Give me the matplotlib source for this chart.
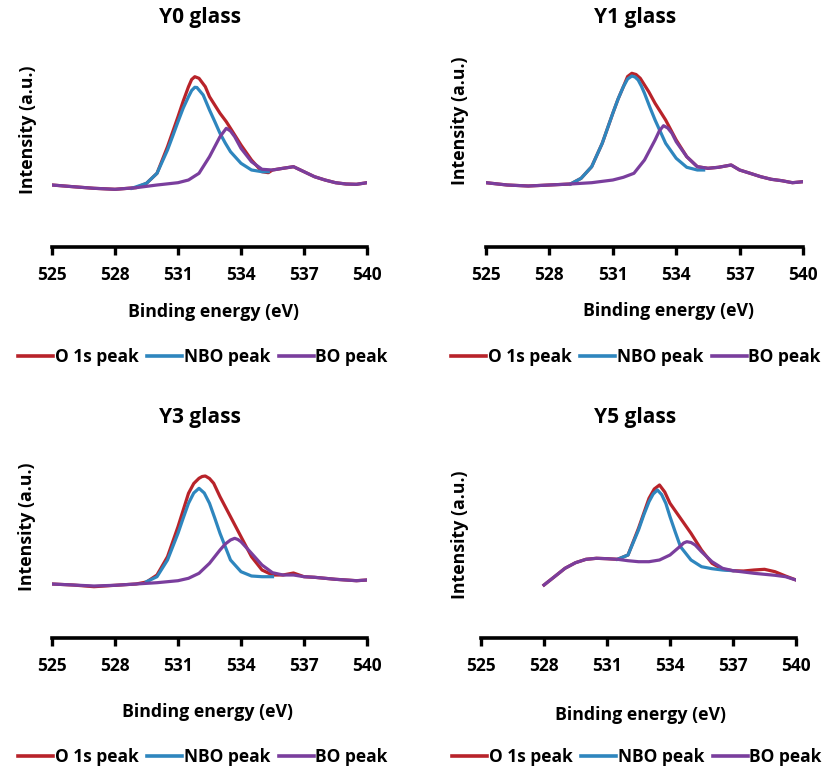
import matplotlib
matplotlib.use("Agg")
import matplotlib.pyplot as plt
from matplotlib.lines import Line2D

plt.rcParams["font.family"] = ["Open Sans", "DejaVu Sans"]
plt.rcParams["font.weight"] = "bold"

RED = "#B8232A"
BLUE = "#2E86BE"
PURPLE = "#7A3E9D"

TICKS = [525, 528, 531, 534, 537, 540]

# ---- Y0 glass ----
y0_bo_e = [525, 526, 527, 528, 529, 530, 531, 531.5, 532, 532.5, 533, 533.3, 533.5, 533.7,
           534, 534.5, 535, 535.5, 536, 536.5, 537, 537.5, 538, 538.5, 539, 539.5, 540]
y0_bo_i = [62, 60.3, 58.7, 57.7, 59.3, 62, 64.3, 67, 73.7, 90.3, 110.3, 118.7, 116, 110.3,
           98.7, 85.3, 77.7, 77, 78.7, 80.3, 75.3, 70.3, 67, 64.3, 63, 62.7, 64.3]
y0_nbo_e = [528.8, 529.5, 530, 530.5, 530.75, 531, 531.25, 531.5, 531.65, 531.8, 531.9,
            532, 532.2, 532.5, 532.75, 533, 533.25, 533.5, 534, 534.5, 535, 535.3]
y0_nbo_i = [58.7, 63.7, 73.7, 97, 111, 125.3, 139, 150.3, 156.5, 159.7, 159.5,
            157, 152, 137, 125.5, 113.7, 104, 95.3, 83.7, 77, 75.3, 75.3]
y0_o1s_e = [525, 526, 527, 528, 529, 529.5, 530, 530.5, 531, 531.25, 531.5, 531.65, 531.8,
            532, 532.3, 532.5, 533, 533.3, 533.5, 534, 534.5, 535, 535.3, 535.5, 536,
            536.5, 537, 537.5, 538, 538.5, 539, 539.5, 540]
y0_o1s_i = [62, 60.3, 58.7, 57.7, 59.3, 63.7, 73.7, 100.3, 130.3, 146, 160.3, 167.5, 170.3,
            168.7, 160.3, 150.3, 133.7, 125.3, 118.7, 102, 87, 75.3, 74.3, 77, 78.7,
            80.3, 75.3, 70.3, 67, 64.3, 63, 62.7, 64.3]

# ---- Y1 glass ----
y1_bo_e = [525, 526, 527, 528, 529, 530, 531, 531.5, 532, 532.5, 533, 533.2, 533.4, 533.6,
           533.8, 534, 534.5, 535, 535.5, 536, 536.6, 537, 537.5, 538, 538.5, 539, 539.5, 540]
y1_bo_i = [64.3, 62, 61, 62, 63, 64.3, 67, 69.7, 73.7, 87, 107, 116, 121.3, 119,
           113.7, 105.3, 90.3, 80.3, 78.7, 79.7, 82, 77, 73.7, 70.3, 67.7, 66.3, 64.3, 65.3]
y1_nbo_e = [529, 529.5, 530, 530.5, 531, 531.25, 531.5, 531.7, 531.9, 532.05, 532.2,
            532.35, 532.5, 532.75, 533, 533.5, 534, 534.5, 535, 535.3]
y1_nbo_i = [63, 68.7, 80.3, 103.7, 133.7, 148, 160.3, 168, 171, 170, 167,
            161, 153.7, 140, 127, 103.7, 88.7, 79.7, 77, 77]
y1_o1s_e = [525, 526, 527, 528, 529, 529.5, 530, 530.5, 531, 531.25, 531.5, 531.7, 531.9,
            532.1, 532.3, 532.7, 533, 533.3, 533.5, 534, 534.5, 535, 535.5, 536, 536.6,
            537, 537.5, 538, 538.5, 539, 539.5, 540]
y1_o1s_i = [64.3, 62, 61, 62, 63, 68.7, 80.3, 103.7, 133.7, 148, 160.3, 170.5, 173.7,
            172.5, 168.7, 155.3, 143.7, 133.7, 127, 107, 90.3, 80.3, 78.7, 79.7, 82,
            77, 73.7, 70.3, 67.7, 66.3, 64.3, 65.3]

# ---- Y3 glass ----
y3_bo_e = [525, 526, 527, 528, 529, 530, 531, 531.5, 532, 532.5, 533, 533.25, 533.5, 533.7,
           533.85, 534, 534.5, 535, 535.5, 536, 536.5, 537, 537.5, 538, 538.5, 539, 539.5, 540]
y3_bo_i = [54, 53, 52, 52.7, 54, 55.3, 57.3, 59.7, 64.7, 74.7, 88, 94, 98, 99.7,
           98.5, 96.3, 84.7, 73, 65.3, 63, 63, 61.3, 60.7, 59.7, 58.7, 58, 57.3, 58]
y3_nbo_e = [529.5, 530, 530.5, 531, 531.25, 531.5, 531.75, 532, 532.25, 532.5, 532.75,
            533, 533.5, 534, 534.5, 535, 535.5]
y3_nbo_i = [56.3, 61.3, 78, 104.7, 120, 134.7, 145, 149.7, 145, 134.7, 120,
            104.7, 78, 66.3, 62, 61.3, 61.3]
y3_o1s_e = [525, 526, 527, 528, 529, 529.5, 530, 530.5, 531, 531.5, 531.75, 532, 532.15,
            532.3, 532.5, 532.7, 533, 533.5, 534, 534.5, 535, 535.5, 536, 536.5, 537,
            537.5, 538, 538.5, 539, 539.5, 540]
y3_o1s_i = [54, 53, 51.3, 52.7, 54, 56, 63, 81.3, 111.3, 144.7, 154.5, 159.7, 161.5,
            162, 159.5, 154.7, 141.3, 121.3, 101.3, 81.3, 68, 63, 63, 65, 61.3,
            60.7, 59.7, 58.7, 58, 57.3, 58]

# ---- Y5 glass ----
y5_bo_e = [528, 528.5, 529, 529.5, 530, 530.5, 531, 531.5, 532, 532.5, 533, 533.5, 534,
           534.5, 534.65, 534.8, 535, 535.2, 535.5, 536, 536.5, 537, 537.5, 538, 538.5,
           539, 539.5, 540]
y5_bo_i = [53, 61.3, 69.7, 75.3, 78.7, 79.7, 79.3, 78.7, 77.3, 76.3, 76.3, 78, 83,
           92, 95, 96.3, 95.5, 93, 86.3, 76.3, 69.7, 67.3, 66, 64.7, 63.7,
           62.7, 61.3, 58]
y5_nbo_e = [531.5, 532, 532.5, 532.75, 533, 533.2, 533.4, 533.6, 533.8, 534, 534.25,
            534.5, 535, 535.5, 536, 536.5, 537]
y5_nbo_i = [78.7, 83, 108, 123, 136.3, 144, 148, 143.5, 134.7, 121.3, 106,
            91.3, 78, 71.3, 69.3, 68, 67.3]
y5_o1s_e = [528, 528.5, 529, 529.5, 530, 530.5, 531, 531.5, 532, 532.5, 533, 533.25,
            533.5, 533.75, 534, 534.5, 535, 535.5, 536, 536.5, 537, 537.5, 538, 538.5,
            539, 539.5, 540]
y5_o1s_i = [53, 61.3, 69.7, 75.3, 78.7, 79.7, 79.3, 78.7, 83, 109.7, 139.7, 149,
            153, 146, 134.7, 119.7, 104.7, 88, 74.7, 68.7, 67.3, 67, 68, 68.7,
            66.3, 62, 58]

panels = [
    ("Y0 glass", y0_o1s_e, y0_o1s_i, y0_nbo_e, y0_nbo_i, y0_bo_e, y0_bo_i),
    ("Y1 glass", y1_o1s_e, y1_o1s_i, y1_nbo_e, y1_nbo_i, y1_bo_e, y1_bo_i),
    ("Y3 glass", y3_o1s_e, y3_o1s_i, y3_nbo_e, y3_nbo_i, y3_bo_e, y3_bo_i),
    ("Y5 glass", y5_o1s_e, y5_o1s_i, y5_nbo_e, y5_nbo_i, y5_bo_e, y5_bo_i),
]

W, H = 830, 771
# pixel layout: axes left, axes right, axis-line y, title xy, ylabel xy, xlabel xy, legend xy
layout = [
    (52, 367, 247, 200, 17, 28, 130, 213, 312, 203, 357),
    (486, 803, 247, 635, 17, 460, 121, 668, 311, 636, 357),
    (52, 367, 638, 200, 417, 27, 527, 207, 712, 203, 757),
    (481, 796, 638, 635, 417, 460, 535, 640, 715, 637, 757),
]

fig = plt.figure(figsize=(W / 100, H / 100), dpi=100)

for (title, oe, oi, ne, ni, be, bi), (l, r, yb, tx, ty, ylx, yly, xlx, xly, lgx, lgy) in zip(panels, layout):
    ax = fig.add_axes([l / W, 1 - yb / H, (r - l) / W, 200 / H])
    ax.plot(oe, oi, color=RED, lw=2.3, label="O 1s peak")
    ax.plot(ne, ni, color=BLUE, lw=2.3, label="NBO peak")
    ax.plot(be, bi, color=PURPLE, lw=2.3, label="BO peak")
    ax.set_xlim(525, 540)
    ax.set_ylim(0, 200)
    ax.set_xticks(TICKS)
    ax.set_xticklabels([str(t) for t in TICKS])
    ax.set_yticks([])
    for s in ["top", "right", "left"]:
        ax.spines[s].set_visible(False)
    ax.spines["bottom"].set_linewidth(2.6)
    ax.tick_params(axis="x", direction="out", length=6, width=2.4, pad=8,
                   labelsize=12.5)
    for lab in ax.get_xticklabels():
        lab.set_fontweight("bold")
    ax.patch.set_alpha(0)

    fig.text(tx / W, 1 - ty / H, title, ha="center", va="center",
             fontsize=15, fontweight="bold")
    fig.text(ylx / W, 1 - yly / H, "Intensity (a.u.)", ha="center", va="center",
             rotation=90, fontsize=12.8, fontweight="bold")
    fig.text(xlx / W, 1 - xly / H, "Binding energy (eV)", ha="center", va="center",
             fontsize=12.8, fontweight="bold")

    handles = [Line2D([], [], color=c, lw=2.6) for c in (RED, BLUE, PURPLE)]
    fig.legend(handles, ["O 1s peak", "NBO peak", "BO peak"], loc="center",
               bbox_to_anchor=(lgx / W, 1 - lgy / H), ncol=3, frameon=False,
               prop={"size": 12.5, "weight": "bold"}, handlelength=2.0,
               handletextpad=0.1, columnspacing=0.5, borderpad=0)

fig.savefig("out.png", dpi=100)
